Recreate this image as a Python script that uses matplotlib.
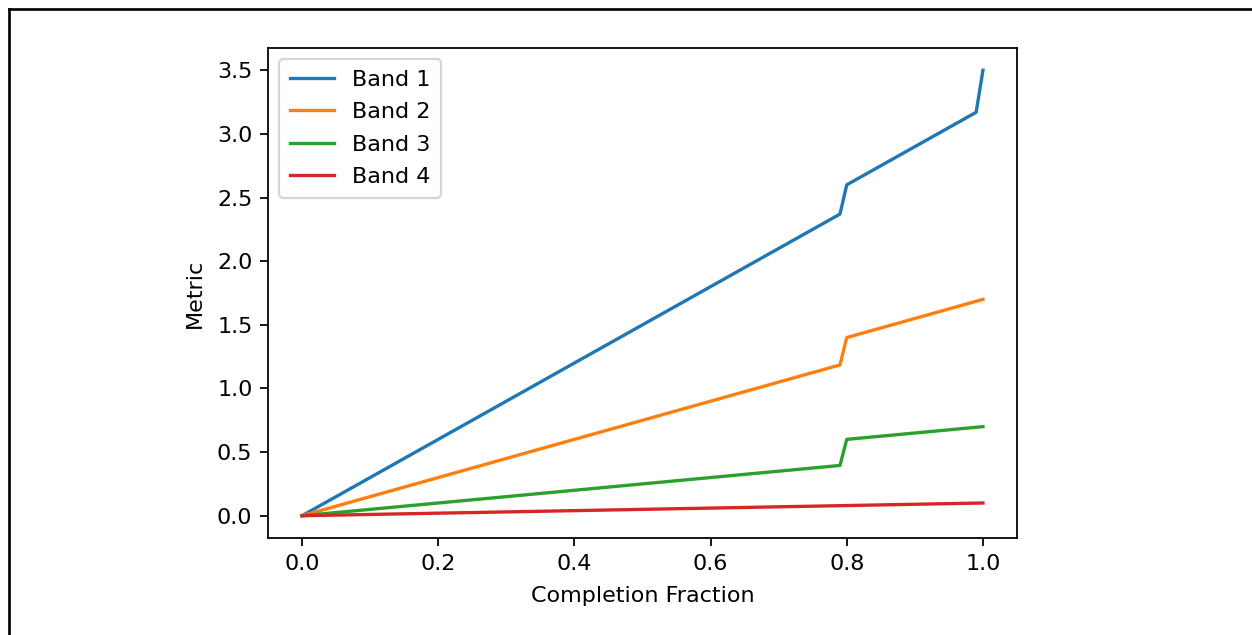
import matplotlib
matplotlib.use("Agg")
import matplotlib.pyplot as plt
from matplotlib.lines import Line2D

completion = [0.0, 0.79, 0.80, 0.99, 1.00]
band1 = [0.0, 2.37, 2.60, 3.17, 3.50]
band2 = [0.0, 1.185, 1.40, 1.685, 1.70]
band3 = [0.0, 0.395, 0.60, 0.695, 0.70]
band4 = [0.0, 0.079, 0.080, 0.099, 0.10]
labels = ["Band 1", "Band 2", "Band 3", "Band 4"]

W, H, DPI = 1252, 635, 160
fig = plt.figure(figsize=(W / DPI, H / DPI), dpi=DPI)
ax = fig.add_axes([268 / W, 1 - 538 / H, (1017 - 268) / W, (538 - 48) / H])
for series, lab in zip([band1, band2, band3, band4], labels):
    ax.plot(completion, series, label=lab)
ax.set_xlabel("Completion Fraction", labelpad=5.4)
ax.set_ylabel("Metric", labelpad=5.4)
ax.legend(loc="upper left", labelspacing=0.56, borderpad=0.48)

# frame lines of the screenshot
fig.add_artist(Line2D([8.5 / W, 8.5 / W], [0, 1 - 8.5 / H], color="black", lw=1.2, transform=fig.transFigure))
fig.add_artist(Line2D([8.5 / W, 1], [1 - 8.5 / H, 1 - 8.5 / H], color="black", lw=1.2, transform=fig.transFigure))

fig.savefig("out.png", dpi=DPI)
